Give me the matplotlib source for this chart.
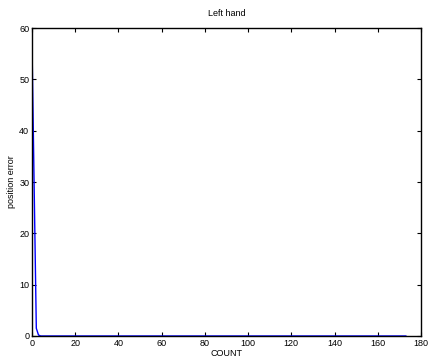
import matplotlib
matplotlib.use("Agg")
import matplotlib.pyplot as plt

count = [0, 1, 2, 3, 4, 173]
position_error = [57.0, 29.0, 1.5, 0.2, 0.0, 0.0]

x_ticks = [0, 20, 40, 60, 80, 100, 120, 140, 160, 180]
y_ticks = [0, 10, 20, 30, 40, 50, 60]

plt.rcParams['font.family'] = ['Liberation Sans', 'DejaVu Sans']

fig = plt.figure(figsize=(4.3, 3.6), dpi=100)
ax = fig.add_axes([0.0744, 0.0667, 0.979 - 0.0744, 0.922 - 0.0667])
ax.plot(count, position_error, color='#0000ff', linewidth=1.0)

ax.set_xlim(0, 180)
ax.set_ylim(0, 60)
ax.set_xticks(x_ticks)
ax.set_yticks(y_ticks)
ax.tick_params(direction='in', top=True, right=True, length=3, width=0.8,
               labelsize=6.5, pad=2, colors='black')
for s in ax.spines.values():
    s.set_linewidth(1.0)

ax.set_title('Left hand', fontsize=6.5, pad=9)
ax.set_xlabel('COUNT', fontsize=6.5, labelpad=1)
ax.set_ylabel('position error', fontsize=6.5, labelpad=2)

fig.savefig('out.png', dpi=100)
